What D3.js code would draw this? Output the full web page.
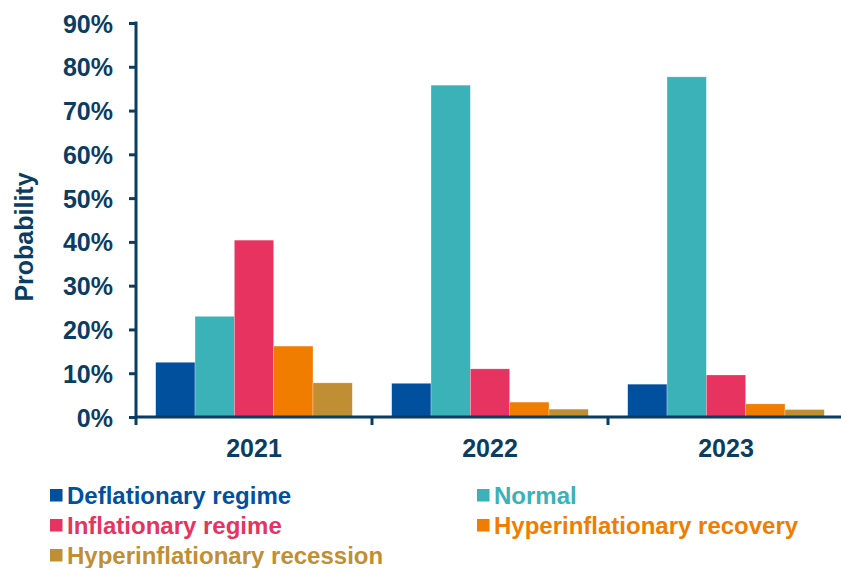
<!DOCTYPE html>
<html>
<head>
<meta charset="utf-8">
<script src="https://cdn.jsdelivr.net/npm/d3@7"></script>
<style>
  html, body { margin: 0; padding: 0; background: #fff; }
  svg { display: block; }
  text { font-family: "Liberation Sans", Arial, sans-serif; font-weight: bold; }
</style>
</head>
<body>
<svg id="chart" width="841" height="568"></svg>
<script>
// Regime probabilities by year
const years = ["2021", "2022", "2023"];
const regimes = [
  "Deflationary regime",
  "Normal",
  "Inflationary regime",
  "Hyperinflationary recovery",
  "Hyperinflationary recession"
];
const deflationary = [12.5, 7.7, 7.5];
const normal = [23.0, 75.8, 77.7];
const inflationary = [40.4, 11.0, 9.6];
const hyperRecovery = [16.2, 3.4, 3.0];
const hyperRecession = [7.8, 1.8, 1.7];
const yTicks = [0, 10, 20, 30, 40, 50, 60, 70, 80, 90];

const seriesValues = [deflationary, normal, inflationary, hyperRecovery, hyperRecession];
const colors = ["#00509E", "#3AB2B7", "#E6335F", "#F07D00", "#C18F33"];
const axisColor = "#0B3D63";

const svg = d3.select("#chart");

const x0 = d3.scaleBand().domain(years).range([136, 844]).padding(0);
const groupPad = x0.bandwidth() * 0.0835;
const x1 = d3.scaleBand().domain(regimes)
  .range([groupPad, x0.bandwidth() - groupPad]).padding(0);
const y = d3.scaleLinear().domain([0, 90]).range([417, 23]);

// Bars
const rows = years.map((yr, i) => ({
  year: yr,
  vals: regimes.map((r, j) => ({ regime: r, value: seriesValues[j][i], color: colors[j] }))
}));

svg.append("g").selectAll("g")
  .data(rows).join("g")
  .attr("transform", d => `translate(${x0(d.year)},0)`)
  .selectAll("rect")
  .data(d => d.vals).join("rect")
  .attr("x", d => x1(d.regime))
  .attr("width", x1.bandwidth())
  .attr("y", d => y(d.value))
  .attr("height", d => y(0) - y(d.value))
  .attr("fill", d => d.color)
  .attr("stroke", "#ffffff")
  .attr("stroke-opacity", 0.45)
  .attr("stroke-width", 0.6);

// Y axis
const yAxis = svg.append("g")
  .attr("transform", "translate(136,0)")
  .call(d3.axisLeft(y).tickValues(yTicks).tickFormat(d => d + "%").tickSize(7).tickSizeOuter(0).tickPadding(16));
yAxis.select(".domain").remove();
yAxis.selectAll(".tick line").attr("stroke", axisColor).attr("stroke-width", 3);
yAxis.selectAll(".tick text")
  .attr("fill", axisColor)
  .style("font-size", "25px")
  .attr("dy", "0.36em");
svg.append("line")
  .attr("x1", 136).attr("x2", 136)
  .attr("y1", y(90) - 1.5).attr("y2", 425)
  .attr("stroke", axisColor).attr("stroke-width", 3);

// X axis
const xAxis = svg.append("g")
  .attr("transform", `translate(0,${y(0)})`)
  .call(d3.axisBottom(x0).tickSize(0).tickPadding(22));
xAxis.select(".domain").remove();
xAxis.selectAll(".tick text")
  .attr("fill", axisColor)
  .style("font-size", "25px");
svg.append("line")
  .attr("x1", 136).attr("x2", 841)
  .attr("y1", y(0)).attr("y2", y(0))
  .attr("stroke", axisColor).attr("stroke-width", 3);
// Category separators
svg.append("g").selectAll("line")
  .data(years.slice(1)).join("line")
  .attr("x1", d => x0(d)).attr("x2", d => x0(d))
  .attr("y1", y(0)).attr("y2", 425)
  .attr("stroke", axisColor).attr("stroke-width", 3);

// Y axis title
svg.append("text")
  .attr("transform", "translate(33,237) rotate(-90)")
  .attr("text-anchor", "middle")
  .attr("fill", axisColor)
  .style("font-size", "25px")
  .text("Probability");

// Legend
const legendPos = [
  { x: 50, y: 489 }, { x: 477, y: 489 },
  { x: 50, y: 519 }, { x: 477, y: 519 },
  { x: 50, y: 549 }
];
const legend = svg.append("g").selectAll("g")
  .data(regimes).join("g")
  .attr("transform", (d, i) => `translate(${legendPos[i].x},${legendPos[i].y})`);
legend.append("rect")
  .attr("width", 12.5).attr("height", 12.5)
  .attr("fill", (d, i) => colors[i]);
legend.append("text")
  .attr("x", 17)
  .attr("y", 14.5)
  .attr("fill", (d, i) => colors[i])
  .style("font-size", "24px")
  .text(d => d);
</script>
</body>
</html>
